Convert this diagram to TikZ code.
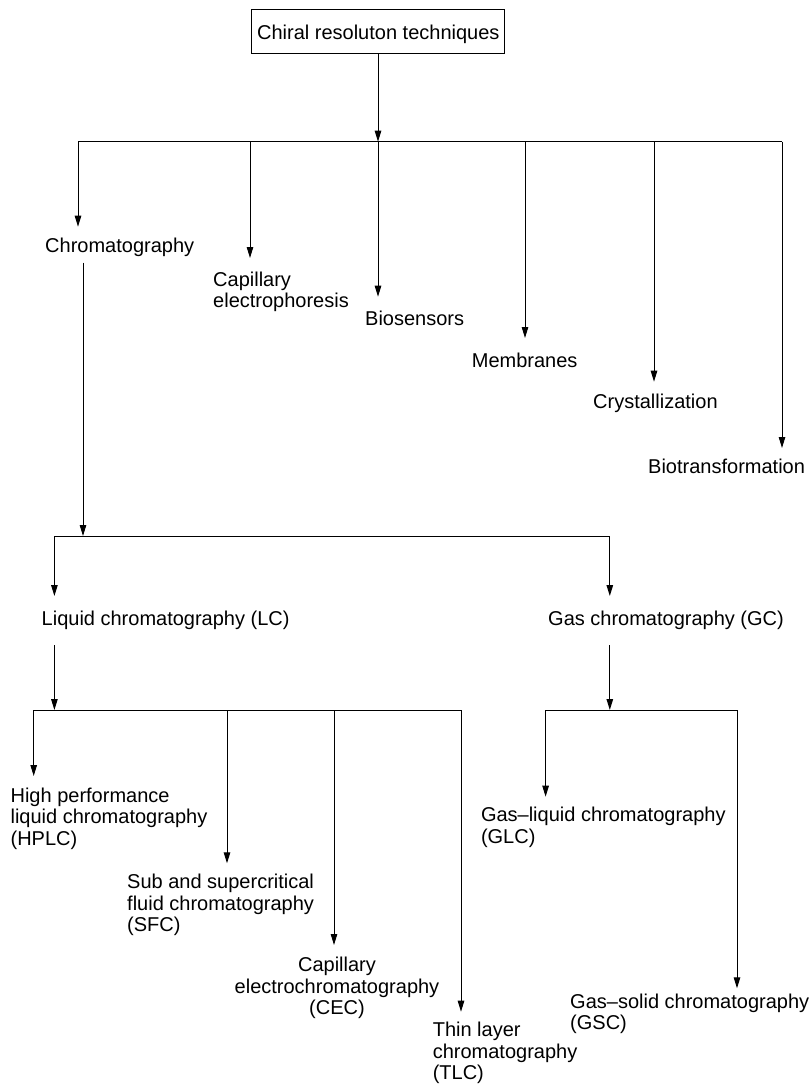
\documentclass[tikz,border=0pt]{standalone}
\usepackage{fontspec}
\setmainfont{Liberation Sans}
\usetikzlibrary{arrows.meta}
\begin{document}
\begin{tikzpicture}[x=1pt,y=-1pt,
  lbl/.style={inner sep=0pt,font=\fontsize{20}{21.5}\selectfont},
  ml/.style={lbl,anchor=north west,align=left},
  conn/.style={line width=1pt},
  arr/.style={line width=1pt,-{Triangle[length=11pt,width=6.5pt]}}]
\useasboundingbox (0,0) rectangle (811,1086);
% root box
\node[draw,line width=1pt,lbl,anchor=base,minimum width=253.3pt,text height=29.3pt,text depth=14pt] (root) at (378.3,39.3) {Chiral resoluton techniques};
% level 1 labels
\node[lbl,anchor=base west] (chrom) at (45,252.7) {Chromatography};
\node[ml] (cape) at (213,271.5) {Capillary\\electrophoresis};
\node[lbl,anchor=base west] (bios) at (365,325) {Biosensors};
\node[lbl,anchor=base west] (memb) at (471.7,367) {Membranes};
\node[lbl,anchor=base west] (cryst) at (593,408) {Crystallization};
\node[lbl,anchor=base west] (biot) at (648,473.3) {Biotransformation};
% level 2
\node[lbl,anchor=base west] (lc) at (41.5,625) {Liquid chromatography (LC)};
\node[lbl,anchor=base west] (gc) at (548,625) {Gas chromatography (GC)};
% level 3
\node[ml] (hplc) at (10.4,787.5) {High performance\\liquid chromatography\\(HPLC)};
\node[ml] (sfc) at (127,873.8) {Sub and supercritical\\fluid chromatography\\(SFC)};
\node[lbl,anchor=north,align=center] (cec) at (337,957.2) {Capillary\\electrochromatography\\(CEC)};
\node[ml] (tlc) at (432.6,1022.2) {Thin layer\\chromatography\\(TLC)};
\node[ml] (glc) at (480.8,807.2) {Gas–liquid chromatography\\(GLC)};
\node[ml] (gsc) at (570,993.5) {Gas–solid chromatography\\(GSC)};
% junction coordinates
\coordinate (b1) at (378,141.7);
\coordinate (b1L) at (78,141.7);
\coordinate (b1R) at (782,141.7);
\coordinate (tChrom) at (78,226.7);
\coordinate (tCape) at (250,258);
\coordinate (tBios) at (378,296.7);
\coordinate (tMemb) at (525,338);
\coordinate (tCryst) at (654,381.7);
\coordinate (tBiot) at (782,448);
\coordinate (c2top) at (83,262.7);
\coordinate (b2) at (83,536);
\coordinate (b2L) at (54.4,536);
\coordinate (b2R) at (609.8,536);
\coordinate (tLC) at (54.4,596);
\coordinate (tGC) at (609.8,596);
\coordinate (lcTop) at (54.4,645);
\coordinate (gcTop) at (609.8,645);
\coordinate (b3) at (54.4,710);
\coordinate (b3L) at (33.7,710);
\coordinate (b3R) at (461,710);
\coordinate (b4) at (609.8,710);
\coordinate (b4L) at (545.6,710);
\coordinate (b4R) at (737,710);
\coordinate (tHPLC) at (33.7,776);
\coordinate (tSFC) at (227,863.3);
\coordinate (tCEC) at (334,945);
\coordinate (tTLC) at (461,1011.7);
\coordinate (tGLC) at (545.6,796.7);
\coordinate (tGSC) at (737,988.3);
% connectors level 1
\draw[arr] (root.south -| b1) -- (b1);
\draw[conn] (b1L) -- (b1R);
\draw[arr] (b1L) -- (tChrom);
\draw[arr] (b1L -| tCape) -- (tCape);
\draw[arr] (b1L -| tBios) -- (tBios);
\draw[arr] (b1L -| tMemb) -- (tMemb);
\draw[arr] (b1L -| tCryst) -- (tCryst);
\draw[arr] (b1R) -- (tBiot);
% level 2
\draw[arr] (c2top) -- (b2);
\draw[conn] (b2L) -- (b2R);
\draw[arr] (b2L) -- (tLC);
\draw[arr] (b2R) -- (tGC);
% level 3
\draw[arr] (lcTop) -- (b3);
\draw[conn] (b3L) -- (b3R);
\draw[arr] (b3L) -- (tHPLC);
\draw[arr] (b3L -| tSFC) -- (tSFC);
\draw[arr] (b3L -| tCEC) -- (tCEC);
\draw[arr] (b3R) -- (tTLC);
\draw[arr] (gcTop) -- (b4);
\draw[conn] (b4L) -- (b4R);
\draw[arr] (b4L) -- (tGLC);
\draw[arr] (b4R) -- (tGSC);
\end{tikzpicture}
\end{document}
